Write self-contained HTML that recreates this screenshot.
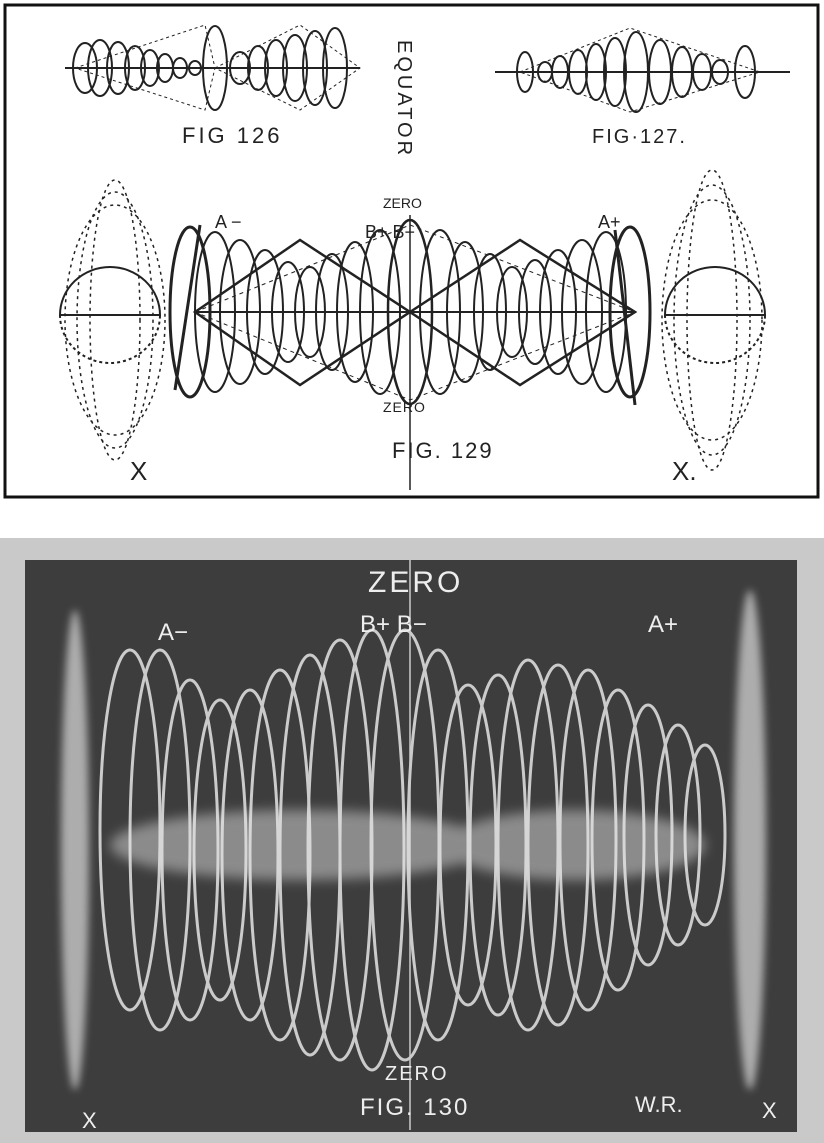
<!DOCTYPE html>
<html><head><meta charset="utf-8"><style>
html,body{margin:0;padding:0;background:#fff;}
svg{display:block;}
text{font-family:"Liberation Sans",sans-serif;}
</style></head><body>
<svg width="824" height="1143" viewBox="0 0 824 1143" xmlns="http://www.w3.org/2000/svg">
<defs>
 <filter id="b" x="-20%" y="-20%" width="140%" height="140%"><feGaussianBlur stdDeviation="6"/></filter>
 <filter id="b2" x="-50%" y="-10%" width="200%" height="120%"><feGaussianBlur stdDeviation="4"/></filter>
</defs>
<rect x="0" y="0" width="824" height="1143" fill="#fff"/>
<rect x="5" y="5" width="813" height="492" fill="#fff" stroke="#111" stroke-width="3"/>
<g fill="none" stroke="#222" stroke-width="2">
 <line x1="65" y1="68" x2="360" y2="68"/>
 <polygon points="75,68 205,25 215,68 205,110" stroke-dasharray="3,3" stroke-width="1"/>
 <polygon points="215,68 300,25 360,68 300,110" stroke-dasharray="3,3" stroke-width="1"/>
 <ellipse cx="85" cy="68" rx="12" ry="25"/><ellipse cx="100" cy="68" rx="12" ry="28"/>
 <ellipse cx="118" cy="68" rx="11" ry="26"/><ellipse cx="135" cy="68" rx="10" ry="22"/>
 <ellipse cx="150" cy="68" rx="9" ry="18"/><ellipse cx="165" cy="68" rx="8" ry="14"/>
 <ellipse cx="180" cy="68" rx="7" ry="10"/><ellipse cx="195" cy="68" rx="6" ry="7"/>
 <ellipse cx="215" cy="68" rx="12" ry="42"/><ellipse cx="240" cy="68" rx="10" ry="16"/>
 <ellipse cx="258" cy="68" rx="10" ry="22"/><ellipse cx="276" cy="68" rx="11" ry="28"/>
 <ellipse cx="295" cy="68" rx="12" ry="33"/><ellipse cx="315" cy="68" rx="12" ry="37"/>
 <ellipse cx="335" cy="68" rx="12" ry="40"/>
 <line x1="495" y1="72" x2="790" y2="72"/>
 <polygon points="520,72 630,28 760,72 630,112" stroke-dasharray="3,3" stroke-width="1"/>
 <ellipse cx="525" cy="72" rx="8" ry="20"/><ellipse cx="545" cy="72" rx="7" ry="10"/>
 <ellipse cx="560" cy="72" rx="8" ry="16"/><ellipse cx="578" cy="72" rx="9" ry="22"/>
 <ellipse cx="596" cy="72" rx="10" ry="28"/><ellipse cx="615" cy="72" rx="11" ry="34"/>
 <ellipse cx="636" cy="72" rx="12" ry="40"/><ellipse cx="660" cy="72" rx="11" ry="32"/>
 <ellipse cx="682" cy="72" rx="10" ry="25"/><ellipse cx="702" cy="72" rx="9" ry="18"/>
 <ellipse cx="720" cy="72" rx="8" ry="12"/><ellipse cx="745" cy="72" rx="10" ry="26"/>
 <line x1="195" y1="312" x2="635" y2="312"/>
 <polygon points="195,312 300,240 410,312 300,385" stroke-width="2.5"/>
 <polygon points="410,312 520,240 635,312 520,385" stroke-width="2.5"/>
 <polygon points="195,312 410,225 635,312 410,400" stroke-dasharray="4,4" stroke-width="1"/>
 <ellipse cx="190" cy="312" rx="20" ry="85" stroke-width="3"/>
 <ellipse cx="215" cy="312" rx="20" ry="80"/><ellipse cx="240" cy="312" rx="20" ry="72"/>
 <ellipse cx="265" cy="312" rx="18" ry="62"/><ellipse cx="288" cy="312" rx="16" ry="50"/>
 <ellipse cx="310" cy="312" rx="15" ry="45"/><ellipse cx="332" cy="312" rx="16" ry="58"/>
 <ellipse cx="355" cy="312" rx="18" ry="70"/><ellipse cx="380" cy="312" rx="20" ry="82"/>
 <ellipse cx="410" cy="312" rx="22" ry="92" stroke-width="2.5"/>
 <ellipse cx="440" cy="312" rx="20" ry="82"/><ellipse cx="465" cy="312" rx="18" ry="70"/>
 <ellipse cx="490" cy="312" rx="16" ry="58"/><ellipse cx="512" cy="312" rx="15" ry="45"/>
 <ellipse cx="535" cy="312" rx="16" ry="52"/><ellipse cx="558" cy="312" rx="18" ry="62"/>
 <ellipse cx="582" cy="312" rx="20" ry="72"/><ellipse cx="606" cy="312" rx="20" ry="80"/>
 <ellipse cx="630" cy="312" rx="20" ry="85" stroke-width="3"/>
 <line x1="175" y1="390" x2="200" y2="225" stroke-width="3"/>
 <line x1="615" y1="230" x2="635" y2="405" stroke-width="3"/>
 <path d="M60,315 A50,48 0 0 1 160,315 Z"/><path d="M60,315 A50,48 0 0 0 160,315" stroke-dasharray="3,3"/>
 <path d="M665,315 A50,48 0 0 1 765,315 Z"/><path d="M665,315 A50,48 0 0 0 765,315" stroke-dasharray="3,3"/>
 <g stroke-dasharray="3,4" stroke-width="1.5">
  <ellipse cx="115" cy="320" rx="25" ry="140"/><ellipse cx="115" cy="320" rx="38" ry="128"/>
  <ellipse cx="115" cy="320" rx="50" ry="115"/>
  <ellipse cx="712" cy="320" rx="25" ry="150"/><ellipse cx="712" cy="320" rx="38" ry="135"/>
  <ellipse cx="712" cy="320" rx="50" ry="120"/>
 </g>
 <line x1="410" y1="215" x2="410" y2="490" stroke-width="1.5"/>
</g>
<g fill="#222" font-size="22">
 <text x="182" y="143" letter-spacing="3">FIG 126</text>
 <text x="592" y="143" font-size="20" letter-spacing="2">FIG·127.</text>
 <text x="392" y="458" letter-spacing="2">FIG. 129</text>
 <text x="383" y="208" font-size="14">ZERO</text>
 <text x="383" y="412" font-size="14" letter-spacing="1">ZERO</text>
 <text x="215" y="228" font-size="18">A −</text>
 <text x="365" y="238" font-size="18">B+ B−</text>
 <text x="598" y="228" font-size="18">A+</text>
 <text x="130" y="480" font-size="26">X</text>
 <text x="672" y="480" font-size="26">X.</text>
 <text transform="translate(398,40) rotate(90)" font-size="20" letter-spacing="3">EQUATOR</text>
</g>
<rect x="0" y="538" width="824" height="605" fill="#c9c9c9"/>
<rect x="25" y="560" width="772" height="572" fill="#3d3d3d"/>
<g filter="url(#b2)" fill="#ddd" opacity="0.7">
 <ellipse cx="75" cy="850" rx="14" ry="240"/>
 <ellipse cx="750" cy="840" rx="16" ry="250"/>
</g>
<g filter="url(#b)" fill="#ccc" opacity="0.55">
 <ellipse cx="300" cy="845" rx="190" ry="35"/>
 <ellipse cx="575" cy="845" rx="130" ry="35"/>
</g>
<g fill="none" stroke="#e4e4e4" stroke-width="3" opacity="0.85">
 <ellipse cx="130" cy="830" rx="30" ry="180"/><ellipse cx="160" cy="840" rx="30" ry="190"/>
 <ellipse cx="190" cy="850" rx="28" ry="170"/><ellipse cx="220" cy="850" rx="26" ry="150"/>
 <ellipse cx="250" cy="855" rx="28" ry="165"/><ellipse cx="280" cy="855" rx="30" ry="185"/>
 <ellipse cx="310" cy="855" rx="30" ry="200"/><ellipse cx="340" cy="850" rx="32" ry="210"/>
 <ellipse cx="372" cy="850" rx="32" ry="220"/><ellipse cx="405" cy="845" rx="34" ry="215"/>
 <ellipse cx="438" cy="845" rx="30" ry="195"/><ellipse cx="468" cy="845" rx="28" ry="160"/>
 <ellipse cx="498" cy="845" rx="28" ry="170"/><ellipse cx="528" cy="845" rx="30" ry="185"/>
 <ellipse cx="558" cy="845" rx="30" ry="180"/><ellipse cx="588" cy="840" rx="28" ry="170"/>
 <ellipse cx="618" cy="840" rx="26" ry="150"/><ellipse cx="648" cy="835" rx="24" ry="130"/>
 <ellipse cx="678" cy="835" rx="22" ry="110"/><ellipse cx="705" cy="835" rx="20" ry="90"/>
 <line x1="410" y1="560" x2="410" y2="1130" stroke-width="1.5"/>
</g>
<g fill="#eee" font-size="26">
 <text x="368" y="592" font-size="30" letter-spacing="3">ZERO</text>
 <text x="360" y="632" font-size="24">B+ B−</text>
 <text x="158" y="640" font-size="24">A−</text>
 <text x="648" y="632" font-size="24">A+</text>
 <text x="385" y="1080" font-size="20" letter-spacing="2">ZERO</text>
 <text x="360" y="1115" font-size="24" letter-spacing="2">FIG. 130</text>
 <text x="635" y="1112" font-size="22">W.R.</text>
 <text x="82" y="1128" font-size="22">X</text>
 <text x="762" y="1118" font-size="22">X</text>
</g>
</svg>
</body></html>
